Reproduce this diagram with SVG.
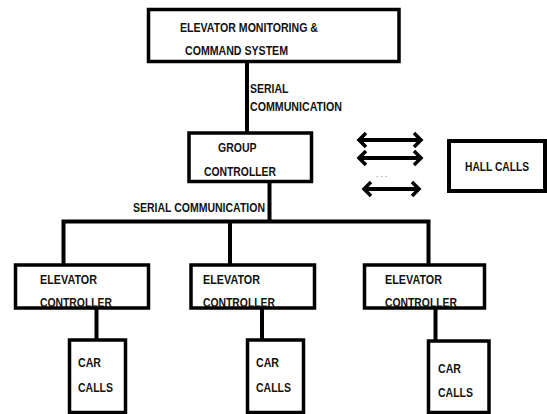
<svg xmlns="http://www.w3.org/2000/svg" width="547" height="414" viewBox="0 0 547 414">
<style>
.box{fill:#fff;stroke:#000;stroke-width:3.5}
.hall{fill:#fff;stroke:#000;stroke-width:4}
.ln{fill:none;stroke:#000;stroke-width:4}
.arr{fill:none;stroke:#000;stroke-width:4}
.hd{fill:none;stroke:#000;stroke-width:3.5;stroke-linejoin:miter}
text{font-family:"Liberation Sans",Arial,sans-serif;font-weight:bold;font-size:12px;fill:#111}
</style>
<rect width="547" height="414" fill="#fff"/>
<g id="connectors">
<line class="ln" x1="247" y1="61" x2="247" y2="133"/>
<polyline class="ln" points="269.5,181 269.5,221.5"/>
<polyline class="ln" points="63.5,265 63.5,221.5 428.5,221.5 428.5,265"/>
<line class="ln" x1="230" y1="221.5" x2="230" y2="265"/>
<line class="ln" x1="96.5" y1="308" x2="96.5" y2="340"/>
<line class="ln" x1="262" y1="308" x2="262" y2="340"/>
<line class="ln" x1="435.5" y1="308" x2="435.5" y2="341"/>
<text x="250" y="93" textLength="38.5" lengthAdjust="spacingAndGlyphs">SERIAL</text>
<text x="250" y="111" textLength="92" lengthAdjust="spacingAndGlyphs">COMMUNICATION</text>
<text x="133" y="212" textLength="132" lengthAdjust="spacingAndGlyphs">SERIAL COMMUNICATION</text>
</g>
<g id="arrows">
<line class="arr" x1="360" y1="140" x2="420" y2="140"/>
<polyline class="hd" points="366,133 359,140 366,147"/>
<polyline class="hd" points="414,133 421,140 414,147"/>
<line class="arr" x1="360" y1="158" x2="420" y2="158"/>
<polyline class="hd" points="366,151 359,158 366,165"/>
<polyline class="hd" points="414,151 421,158 414,165"/>
<text x="376" y="177" style="font-size:8px;font-weight:normal;fill:#345">. . .</text>
<line class="arr" x1="365" y1="189" x2="418" y2="189"/>
<polyline class="hd" points="371,182 364,189 371,196"/>
<polyline class="hd" points="412,182 419,189 412,196"/>
</g>
<g id="monitoring">
<rect class="box" x="148.5" y="9.5" width="250.5" height="52"/>
<text x="180" y="32" textLength="138" lengthAdjust="spacingAndGlyphs">ELEVATOR MONITORING &amp;</text>
<text x="185" y="55" textLength="103" lengthAdjust="spacingAndGlyphs">COMMAND SYSTEM</text>
</g>
<g id="group-controller">
<rect class="box" x="189" y="133" width="122.5" height="48.5"/>
<text x="218" y="152" textLength="38.5" lengthAdjust="spacingAndGlyphs">GROUP</text>
<text x="204" y="176" textLength="72" lengthAdjust="spacingAndGlyphs">CONTROLLER</text>
</g>
<g id="hall-calls">
<rect class="hall" x="449" y="141" width="96" height="50"/>
<text x="465" y="170.5" textLength="64" lengthAdjust="spacingAndGlyphs">HALL CALLS</text>
</g>
<g id="elevator-controller-1">
<rect class="box" x="15.5" y="265" width="133" height="43"/>
<text x="40" y="284" textLength="57" lengthAdjust="spacingAndGlyphs">ELEVATOR</text>
<text x="40" y="307" textLength="72" lengthAdjust="spacingAndGlyphs">CONTROLLER</text>
</g>
<g id="elevator-controller-2">
<rect class="box" x="191" y="265" width="123.5" height="43"/>
<text x="203" y="284" textLength="57" lengthAdjust="spacingAndGlyphs">ELEVATOR</text>
<text x="203" y="307" textLength="72" lengthAdjust="spacingAndGlyphs">CONTROLLER</text>
</g>
<g id="elevator-controller-3">
<rect class="box" x="364.5" y="265" width="120" height="43"/>
<text x="385" y="284" textLength="57" lengthAdjust="spacingAndGlyphs">ELEVATOR</text>
<text x="385" y="307" textLength="72" lengthAdjust="spacingAndGlyphs">CONTROLLER</text>
</g>
<g id="car-calls-1">
<rect class="box" x="69.5" y="340" width="56" height="72.5"/>
<text x="78" y="367" textLength="23" lengthAdjust="spacingAndGlyphs">CAR</text>
<text x="78" y="392" textLength="35" lengthAdjust="spacingAndGlyphs">CALLS</text>
</g>
<g id="car-calls-2">
<rect class="box" x="247.5" y="340" width="56" height="72.5"/>
<text x="256" y="367" textLength="23" lengthAdjust="spacingAndGlyphs">CAR</text>
<text x="256" y="392" textLength="35" lengthAdjust="spacingAndGlyphs">CALLS</text>
</g>
<g id="car-calls-3">
<rect class="box" x="428.5" y="341" width="60.5" height="71.5"/>
<text x="438" y="373" textLength="23" lengthAdjust="spacingAndGlyphs">CAR</text>
<text x="438" y="397" textLength="35" lengthAdjust="spacingAndGlyphs">CALLS</text>
</g>
</svg>
